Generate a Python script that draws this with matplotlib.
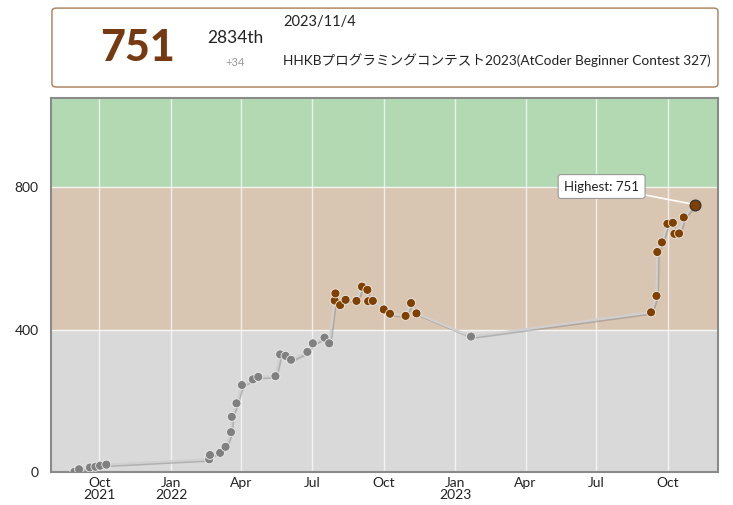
import matplotlib
matplotlib.use("Agg")
import matplotlib.pyplot as plt
import matplotlib.patheffects as pe
from matplotlib.patches import FancyBboxPatch
import pandas as pd

# rating history
dates = [
    "2021-08-30", "2021-09-05", "2021-09-19", "2021-09-26", "2021-10-02", "2021-10-10",
    "2022-02-19", "2022-02-20", "2022-03-05", "2022-03-12", "2022-03-19", "2022-03-20",
    "2022-03-26", "2022-04-02", "2022-04-16", "2022-04-23", "2022-05-15", "2022-05-21",
    "2022-05-28", "2022-06-04", "2022-06-25", "2022-07-02", "2022-07-17", "2022-07-23",
    "2022-07-30", "2022-07-31", "2022-08-06", "2022-08-13", "2022-08-27", "2022-09-03",
    "2022-09-10", "2022-09-11", "2022-09-17", "2022-10-01", "2022-10-09", "2022-10-29",
    "2022-11-05", "2022-11-12", "2023-01-21", "2023-09-09", "2023-09-16", "2023-09-17",
    "2023-09-23", "2023-09-30", "2023-10-07", "2023-10-09", "2023-10-15", "2023-10-21",
    "2023-11-04",
]
ratings = [
    2, 9, 14, 16, 19, 22,
    37, 49, 55, 72, 113, 156,
    194, 245, 261, 268, 270, 331,
    327, 316, 338, 362, 378, 362,
    482, 502, 469, 484, 481, 521,
    512, 480, 481, 457, 445, 439,
    475, 446, 381, 449, 495, 618,
    645, 697, 700, 669, 670, 715,
    751,
]
bands = [(0, 400, "#d9d9d9"), (400, 800, "#d9c6b2"), (800, 1200, "#b2d9b2")]
y_ticks = [0, 400, 800]

x = pd.to_datetime(dates)
colors = ["#808080" if r < 400 else "#804000" for r in ratings]

fig = plt.figure(figsize=(7.33, 5.05), dpi=100)
ax = fig.add_axes([0.0696, 0.0644, 0.910, 0.741])

for lo, hi, c in bands:
    ax.axhspan(lo, hi, color=c, zorder=0, lw=0)
for y in [400, 800]:
    ax.axhline(y, color="white", lw=1, alpha=0.8, zorder=1)

ax.set_xlim(pd.Timestamp("2021-07-31"), pd.Timestamp("2023-12-04"))
ax.set_ylim(0, 1049)

# month grid every 3 months
ticks = pd.date_range("2021-10-01", "2023-10-01", freq="3MS")
labels = []
for i, t in enumerate(ticks):
    lab = t.strftime("%b")
    if t.month == 1 or i == 0:
        lab += "\n" + str(t.year)
    labels.append(lab)
ax.set_xticks(ticks)
ax.set_xticklabels(labels, family="Lato", fontsize=10, color="#222222", linespacing=1.02)
ax.set_yticks(y_ticks)
ax.set_yticklabels([str(v) for v in y_ticks], family="Lato", fontsize=10, color="#222222")
ax.tick_params(axis="x", length=0, pad=3)
ax.tick_params(axis="y", length=0, pad=9)
for t in ticks:
    ax.axvline(t, color="white", lw=1, alpha=0.7, zorder=1)

for s in ax.spines.values():
    s.set_color("#8a8a8a")
    s.set_linewidth(1.5)

ax.plot(x, ratings, color="#d0d0d0", lw=1.6, zorder=2,
        path_effects=[pe.SimpleLineShadow(offset=(1, -1), shadow_color="#888888", alpha=0.5),
                      pe.Normal()])
ax.scatter(x[:-1], ratings[:-1], s=42, c=colors[:-1], edgecolors="#eeeeee", linewidths=0.6,
           zorder=3)
ax.scatter(x[-1:], ratings[-1:], s=60, c=colors[-1:], edgecolors="#333333", linewidths=0.9,
           zorder=4)

ax.annotate("Highest: 751", xy=(x[-1], ratings[-1]), xytext=(-67, 13),
            textcoords="offset points", ha="center", va="center",
            family="Lato", fontsize=9.5, color="#222222",
            bbox=dict(boxstyle="round,pad=0.45,rounding_size=0.2", fc="white", ec="#999999", lw=0.8),
            arrowprops=dict(arrowstyle="-", color="white", lw=1.2, shrinkA=0, shrinkB=4),
            zorder=5)

# header card
card = FancyBboxPatch((0.0709, 0.8277), 0.9086, 0.1563, transform=fig.transFigure,
                      boxstyle="round,pad=0,rounding_size=0.006", fc="white",
                      ec="#a97c55", lw=1.0)
fig.patches.append(card)
fig.text(0.187, 0.905, "751", family="Lato", fontsize=31, fontweight="black",
         color="#763a12", ha="center", va="center")
fig.text(0.321, 0.925, "2834th", family="Lato", fontsize=12.5, color="#222222",
         ha="center", va="center")
fig.text(0.321, 0.877, "+34", family="Lato", fontsize=8, color="#999999",
         ha="center", va="center")
fig.text(0.386, 0.9565, "2023/11/4", family="Lato", fontsize=10.5, color="#222222",
         ha="left", va="center")
fig.text(0.386, 0.881, "HHKBプログラミングコンテスト2023(AtCoder Beginner Contest 327)",
         family=["Lato", "Noto Sans CJK JP"], fontsize=9.8, color="#222222",
         ha="left", va="center")

fig.savefig("out.png", dpi=100)
